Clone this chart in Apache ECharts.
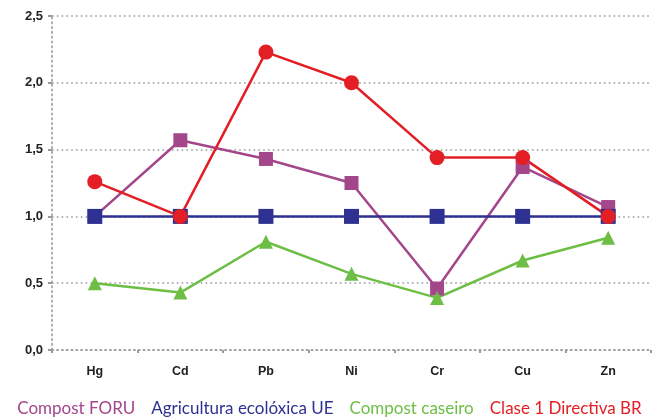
<!DOCTYPE html>
<html>
<head>
<meta charset="utf-8">
<script src="https://cdn.jsdelivr.net/npm/echarts@6/dist/echarts.min.js"></script>
<style>
  html, body { margin: 0; padding: 0; background: #fff; }
  #chart { width: 654px; height: 418px; }
</style>
</head>
<body>
<div id="chart"></div>
<script>
// Metal concentration indices relative to the EU organic farming limit
var categories = ['Hg', 'Cd', 'Pb', 'Ni', 'Cr', 'Cu', 'Zn'];
var compostForu = [1.0, 1.57, 1.43, 1.25, 0.46, 1.37, 1.07];
var agriculturaUE = [1.0, 1.0, 1.0, 1.0, 1.0, 1.0, 1.0];
var compostCaseiro = [0.5, 0.43, 0.81, 0.57, 0.39, 0.67, 0.84];
var clase1BR = [1.26, 1.0, 2.23, 2.0, 1.44, 1.44, 1.0];

var seriesNames = ['Compost FORU', 'Agricultura ecolóxica UE', 'Compost caseiro', 'Clase 1 Directiva BR'];
var seriesColors = ['#A3468A', '#2E3192', '#6DBE45', '#E31E24'];

var chart = echarts.init(document.getElementById('chart'));

var dotted = { color: '#9a9a9a', width: 1.6, type: [1.6, 3.2] };

function lineSeries(i, data, symbol, size) {
  return {
    name: seriesNames[i],
    type: 'line',
    data: data,
    symbol: symbol,
    symbolSize: size,
    showSymbol: true,
    animation: false,
    lineStyle: { color: seriesColors[i], width: 2.5 },
    itemStyle: { color: seriesColors[i], opacity: 1 },
    emphasis: { disabled: true }
  };
}

chart.setOption({
  backgroundColor: '#ffffff',
  animation: false,
  grid: { left: 52, right: 3, top: 16, bottom: 68, containLabel: false },
  legend: {
    bottom: -4,
    left: 'center',
    padding: [5, 0, 5, 10],
    itemWidth: 0,
    itemHeight: 0,
    itemGap: 11,
    icon: 'none',
    selectedMode: false,
    data: seriesNames.map(function (n, i) {
      return { name: n, icon: 'none', textStyle: { color: seriesColors[i] } };
    }),
    textStyle: { fontFamily: 'Lato, "Open Sans", sans-serif', fontSize: 17 }
  },
  xAxis: {
    type: 'category',
    data: categories,
    boundaryGap: true,
    axisLine: { show: true, lineStyle: dotted },
    axisTick: { show: true, length: 3, lineStyle: { color: '#9a9a9a', width: 2 } },
    axisLabel: {
      margin: 15,
      color: '#222',
      fontWeight: 'bold',
      fontSize: 12.5,
      fontFamily: 'Liberation Sans, Arial, sans-serif'
    }
  },
  yAxis: {
    type: 'value',
    min: 0,
    max: 2.5,
    interval: 0.5,
    axisLine: { show: true, lineStyle: dotted },
    axisTick: { show: true, length: 4, lineStyle: { color: '#9a9a9a', width: 2 } },
    splitLine: { show: true, lineStyle: dotted },
    axisLabel: {
      margin: 9,
      color: '#222',
      fontWeight: 'bold',
      fontSize: 13,
      fontFamily: 'Liberation Sans, Arial, sans-serif',
      formatter: function (v) { return v.toFixed(1).replace('.', ','); }
    }
  },
  series: [
    lineSeries(0, compostForu, 'rect', 14),
    lineSeries(1, agriculturaUE, 'rect', 15),
    lineSeries(2, compostCaseiro, 'triangle', 14),
    lineSeries(3, clase1BR, 'circle', 15)
  ]
});
</script>
</body>
</html>
